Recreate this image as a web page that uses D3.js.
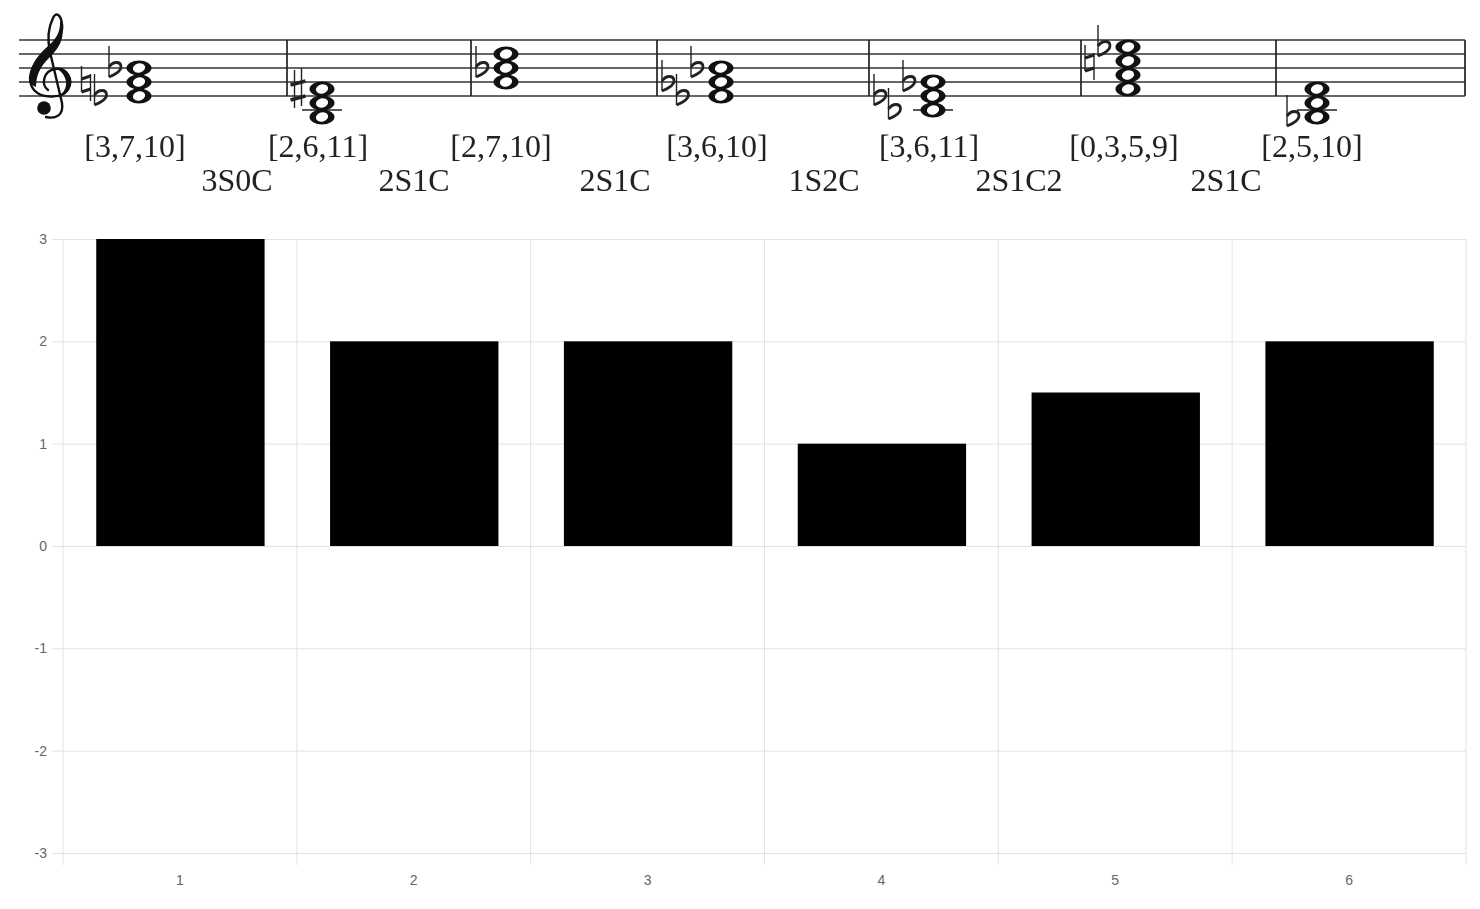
<!DOCTYPE html>
<html>
<head>
<meta charset="utf-8">
<script src="https://cdn.jsdelivr.net/npm/d3@7"></script>
<style>
  html, body { margin: 0; background: #fff; }
  svg { display: block; }
  .score { filter: blur(0.4px); }
</style>
</head>
<body>
<div id="chart"></div>
<script>
// bar chart data
const categories = ["1", "2", "3", "4", "5", "6"];
const barValues = [3, 2, 2, 1, 1.5, 2];
const yTicks = [-3, -2, -1, 0, 1, 2, 3];

// score data, steps count staff positions up from the bottom line
const chordLabels = ["[3,7,10]", "[2,6,11]", "[2,7,10]", "[3,6,10]", "[3,6,11]", "[0,3,5,9]", "[2,5,10]"];
const chordTypes = ["3S0C", "2S1C", "2S1C", "1S2C", "2S1C2", "2S1C"];
const chordSteps = [[0, 2, 4], [-3, -1, 1], [2, 4, 6], [0, 2, 4], [-2, 0, 2], [1, 3, 5, 7], [-3, -1, 1]];
// accidentals per chord, nearest the notes first
const chordAccidentals = [
    [["flat", 4], ["flat", 0], ["natural", 2]],
    [["sharp", 1]],
    [["flat", 4]],
    [["flat", 4], ["flat", 0], ["flat", 2]],
    [["flat", 2], ["flat", -2], ["flat", 0]],
    [["flat", 7], ["natural", 5]],
    [["flat", -3]]
];
const staffLines = [0, 2, 4, 6, 8];

// the score is not evenly spaced, so these are layout and not data
const chordX = [139, 322, 506, 721, 933, 1128, 1317];
const labelX = [135, 318, 501, 717, 929, 1124, 1312];
const typeX = [237, 414, 615, 824, 1019, 1226];
const barlineX = [287, 471, 657, 869, 1081, 1276, 1465];

const width = 1480, height = 909;
const margin = { top: 239, right: 14, bottom: 56, left: 63 };
const plotW = width - margin.left - margin.right;
const plotH = height - margin.top - margin.bottom;

const svg = d3.select("#chart").append("svg")
    .attr("width", width)
    .attr("height", height)
    .attr("viewBox", `0 0 ${width} ${height}`);

// ---- score ----
const staffY = d3.scaleLinear().domain([0, 8]).range([96, 40]);
const accX = d3.scaleLinear().domain([0, 1]).range([-24, -38.5]);
const ink = "#222";

const score = svg.append("g").attr("class", "score");

score.selectAll(".staff-line")
    .data(staffLines)
    .join("line")
    .attr("class", "staff-line")
    .attr("x1", 19)
    .attr("x2", 1465)
    .attr("y1", d => staffY(d))
    .attr("y2", d => staffY(d))
    .attr("stroke", "#333")
    .attr("stroke-width", 1.4);

score.selectAll(".barline")
    .data(barlineX)
    .join("line")
    .attr("class", "barline")
    .attr("x1", d => d)
    .attr("x2", d => d)
    .attr("y1", staffY(8))
    .attr("y2", staffY(0))
    .attr("stroke", "#222")
    .attr("stroke-width", 1.7);

// treble clef
const clef = score.append("g").attr("fill", "none").attr("stroke", "#111").attr("stroke-linecap", "round");
clef.append("path")
    .attr("stroke-width", 2.4)
    .attr("d", "M48 90 C41 85 43 71 55 69 C67 67 74 80 68 89 C62 99 42 99 34 90 C26 80 31 66 42 56 C52 46 64 38 62 24 C61 15 56 11 53 18 C48 28 47 38 50 52 L62 103 C64 116 55 119 46 117");
clef.append("path")
    .attr("fill", "#111")
    .attr("stroke", "none")
    .attr("d", "M30 84 C27 68 38 55 47 47 C55 40 61 33 60 20 C67 36 59 48 51 56 C43 64 36 72 36 87 Z");
clef.append("path")
    .attr("fill", "#111")
    .attr("stroke", "none")
    .attr("d", "M55 68 C67 66 75 80 69 90 C66 95 62 96 58 97 C65 92 68 85 65 78 C63 73 60 70 55 68 Z");
clef.append("circle")
    .attr("cx", 44)
    .attr("cy", 108)
    .attr("r", 6.8)
    .attr("fill", "#111")
    .attr("stroke", "none");

const accidentalDraw = {
    flat: g => {
        g.append("path").attr("d", "M-6 -22 L-6 9").attr("stroke-width", 1.4);
        g.append("path").attr("d", "M-6 -1 C-2 -7 6 -7 6 -1 C6 3 -1 7 -6 9").attr("stroke-width", 2.8);
    },
    natural: g => {
        g.append("path").attr("d", "M-4.5 -16 L-4.5 10 M4.5 -8 L4.5 19").attr("stroke-width", 1.4);
        g.append("path").attr("d", "M-4.5 -3 L4.5 -6 M-4.5 10 L4.5 7").attr("stroke-width", 3);
    },
    sharp: g => {
        g.append("path").attr("d", "M-3.5 -19 L-3.5 19 M3.5 -21 L3.5 17").attr("stroke-width", 1.4);
        g.append("path").attr("d", "M-7.5 -4 L7.5 -8 M-7.5 11 L7.5 7").attr("stroke-width", 3.6);
    }
};

const chords = score.selectAll(".chord")
    .data(chordLabels.map((label, i) => ({ label, steps: chordSteps[i], acc: chordAccidentals[i], x: chordX[i] })))
    .join("g")
    .attr("class", "chord")
    .attr("transform", d => `translate(${d.x},0)`);

// ledger line under the staff for the low chords
chords.filter(d => d3.min(d.steps) <= -2)
    .append("line")
    .attr("x1", -20)
    .attr("x2", 20)
    .attr("y1", staffY(-2))
    .attr("y2", staffY(-2))
    .attr("stroke", "#222")
    .attr("stroke-width", 1.4);

chords.selectAll(".head")
    .data(d => d.steps)
    .join("ellipse")
    .attr("class", "head")
    .attr("cy", d => staffY(d))
    .attr("rx", 12.5)
    .attr("ry", 7.4)
    .attr("fill", "#111");

chords.selectAll(".hole")
    .data(d => d.steps)
    .join("ellipse")
    .attr("class", "hole")
    .attr("transform", d => `translate(0,${staffY(d)}) rotate(-15)`)
    .attr("rx", 6.2)
    .attr("ry", 4.6)
    .attr("fill", "#fff");

chords.each(function (d) {
    d3.select(this).selectAll(".acc")
        .data(d.acc)
        .join("g")
        .attr("class", "acc")
        .attr("transform", (a, i) => `translate(${accX(i)},${staffY(a[1])})`)
        .attr("fill", "none")
        .attr("stroke", ink)
        .each(function (a) { accidentalDraw[a[0]](d3.select(this)); });
});

const scoreFont = "'Liberation Serif', serif";

score.selectAll(".chord-label")
    .data(chordLabels)
    .join("text")
    .attr("class", "chord-label")
    .attr("x", (d, i) => labelX[i])
    .attr("y", 157)
    .attr("text-anchor", "middle")
    .style("font", `32px ${scoreFont}`)
    .attr("fill", ink)
    .text(d => d);

score.selectAll(".chord-type")
    .data(chordTypes)
    .join("text")
    .attr("class", "chord-type")
    .attr("x", (d, i) => typeX[i])
    .attr("y", 191)
    .attr("text-anchor", "middle")
    .style("font", `32px ${scoreFont}`)
    .attr("fill", ink)
    .text(d => d);

// ---- bar chart ----
const plot = svg.append("g")
    .attr("transform", `translate(${margin.left},${margin.top})`);

const x = d3.scaleBand()
    .domain(categories)
    .range([0, plotW])
    .paddingInner(0.28)
    .paddingOuter(0.14);

const y = d3.scaleLinear()
    .domain([-3, 3])
    .range([plotH, 0]);

const gridColor = "#e2e2e2";

const yAxis = plot.append("g")
    .call(d3.axisLeft(y).tickValues(yTicks).tickFormat(d => String(d)).tickSize(11).tickPadding(5));
yAxis.select(".domain").remove();
yAxis.selectAll("line").attr("x2", plotW).attr("x1", -11).attr("stroke", gridColor);

const xGrid = d3.range(categories.length + 1).map(i => i * x.step());
plot.selectAll(".x-grid")
    .data(xGrid)
    .join("line")
    .attr("class", "x-grid")
    .attr("x1", d => d)
    .attr("x2", d => d)
    .attr("y1", 0)
    .attr("y2", plotH + 12)
    .attr("stroke", gridColor);

const xAxis = plot.append("g")
    .attr("transform", `translate(0,${plotH})`)
    .call(d3.axisBottom(x).tickSize(0).tickPadding(22));
xAxis.select(".domain").remove();

plot.selectAll("g.tick text")
    .style("font", "14px 'Liberation Sans', sans-serif")
    .attr("fill", "#666");

plot.selectAll(".bar")
    .data(categories)
    .join("rect")
    .attr("class", "bar")
    .attr("x", d => x(d) + 0.5)
    .attr("y", (d, i) => y(barValues[i]))
    .attr("width", x.bandwidth())
    .attr("height", (d, i) => y(0) - y(barValues[i]))
    .attr("fill", "#000");
</script>
</body>
</html>
